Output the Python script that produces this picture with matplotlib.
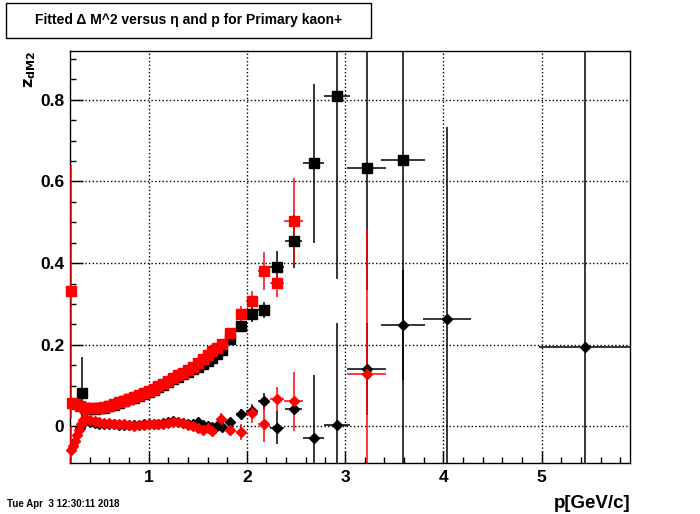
import numpy as np
import matplotlib
matplotlib.use('Agg')
import matplotlib.pyplot as plt
from matplotlib.ticker import MultipleLocator
from matplotlib.patches import Rectangle

# black squares (upper band)
bk_sq_p = [0.32, 0.35, 0.40, 0.45, 0.50, 0.55, 0.60, 0.65, 0.70, 0.75, 0.80, 0.85, 0.90, 0.95,
           1.00, 1.05, 1.10, 1.15, 1.20, 1.25, 1.30, 1.35, 1.40, 1.45, 1.50, 1.55, 1.60, 1.65,
           1.70, 1.75, 1.83, 1.94, 2.05, 2.17, 2.31, 2.475, 2.68, 2.92, 3.22, 3.59]
bk_sq_z = [0.081, 0.044, 0.043, 0.043, 0.044, 0.046, 0.049, 0.053, 0.057, 0.061, 0.066, 0.070,
           0.075, 0.080, 0.085, 0.090, 0.096, 0.102, 0.108, 0.115, 0.122, 0.128, 0.133, 0.140,
           0.146, 0.152, 0.160, 0.168, 0.177, 0.186, 0.213, 0.245, 0.275, 0.285, 0.390, 0.454,
           0.645, 0.810, 0.633, 0.653]
bk_sq_ex = [0.02] + [0.025] * 29 + [0.05, 0.05, 0.055, 0.06, 0.07, 0.09, 0.11, 0.13, 0.20, 0.22]
bk_sq_ez = [0.09] + [0.004] * 29 + [0.008, 0.01, 0.02, 0.02, 0.04, 0.065, 0.195, 0.45, 0.30, 1.0]

# red squares (upper band)
rd_sq_p = [0.21, 0.22, 0.25, 0.30, 0.35, 0.40, 0.45, 0.50, 0.55, 0.60, 0.65, 0.70, 0.75, 0.80,
           0.85, 0.90, 0.95, 1.00, 1.05, 1.10, 1.15, 1.20, 1.25, 1.30, 1.35, 1.40, 1.45, 1.50,
           1.55, 1.60, 1.65, 1.70, 1.75, 1.83, 1.94, 2.05, 2.17, 2.31, 2.475]
rd_sq_z = [0.331, 0.058, 0.055, 0.050, 0.046, 0.045, 0.045, 0.046, 0.048, 0.051, 0.055, 0.059,
           0.063, 0.068, 0.072, 0.077, 0.082, 0.087, 0.092, 0.098, 0.104, 0.110, 0.118, 0.125,
           0.131, 0.138, 0.146, 0.156, 0.165, 0.174, 0.184, 0.193, 0.202, 0.228, 0.275, 0.307,
           0.380, 0.351, 0.503]
rd_sq_ex = [0.01] + [0.025] * 32 + [0.05, 0.05, 0.055, 0.06, 0.07, 0.10]
rd_sq_ez = [0.31] + [0.004] * 32 + [0.008, 0.02, 0.025, 0.047, 0.035, 0.105]

# black diamonds (lower band)
bk_di_p = [0.30, 0.35, 0.40, 0.45, 0.50, 0.55, 0.60, 0.65, 0.70, 0.75, 0.80, 0.85, 0.90, 0.95,
           1.00, 1.05, 1.10, 1.15, 1.20, 1.25, 1.30, 1.35, 1.40, 1.45, 1.50, 1.55, 1.60, 1.65,
           1.70, 1.75, 1.83, 1.94, 2.05, 2.17, 2.31, 2.475, 2.68, 2.92, 3.22, 3.59, 4.04, 5.44]
bk_di_z = [-0.005, 0.012, 0.010, 0.008, 0.006, 0.006, 0.005, 0.005, 0.004, 0.004, 0.003, 0.004,
           0.004, 0.005, 0.006, 0.006, 0.007, 0.008, 0.010, 0.013, 0.010, 0.008, 0.006, 0.006,
           0.010, 0.004, 0.002, -0.002, 0.000, -0.002, 0.010, 0.030, 0.037, 0.061, -0.003, 0.042,
           -0.028, 0.004, 0.140, 0.248, 0.263, 0.194]
bk_di_ex = [0.025] * 29 + [0.04, 0.05, 0.05, 0.055, 0.06, 0.07, 0.09, 0.11, 0.13, 0.20, 0.22,
                          0.245, 0.47]
bk_di_ez = [0.004] * 29 + [0.01, 0.01, 0.012, 0.015, 0.02, 0.04, 0.015, 0.153, 0.25, 0.113,
                          0.135, 0.47, 1.0]

# red diamonds (lower band)
rd_di_p = [0.21, 0.23, 0.25, 0.27, 0.29, 0.31, 0.33, 0.35, 0.40, 0.45, 0.50, 0.55, 0.60, 0.65,
           0.70, 0.75, 0.80, 0.85, 0.90, 0.95, 1.00, 1.05, 1.10, 1.15, 1.20, 1.25, 1.30, 1.35,
           1.40, 1.45, 1.50, 1.55, 1.60, 1.65, 1.74, 1.83, 1.94, 2.05, 2.17, 2.31, 2.475, 3.22]
rd_di_z = [-0.058, -0.048, -0.035, -0.022, -0.008, 0.005, 0.016, 0.020, 0.016, 0.012, 0.010,
           0.009, 0.008, 0.007, 0.006, 0.005, 0.004, 0.002, 0.003, 0.004, 0.005, 0.006, 0.006,
           0.005, 0.008, 0.010, 0.011, 0.008, 0.004, 0.000, -0.004, -0.008, -0.005, -0.012,
           0.017, -0.008, -0.014, 0.032, 0.005, 0.066, 0.061, 0.128]
rd_di_ex = [0.01] + [0.012] * 7 + [0.025] * 26 + [0.045, 0.05, 0.05, 0.055, 0.06, 0.07, 0.10,
                                                   0.20]
rd_di_ez = [0.06] + [0.004] * 33 + [0.015, 0.01, 0.02, 0.024, 0.044, 0.03, 0.073, 0.355]

plt.rcParams['font.family'] = ['Liberation Sans', 'DejaVu Sans']
plt.rcParams['font.weight'] = 'bold'

fig = plt.figure(figsize=(7, 5.14), dpi=100)
ax = fig.add_axes([0.1, 0.099, 0.8, 0.802])

series = [
    (bk_sq_p, bk_sq_z, bk_sq_ex, bk_sq_ez, 's', 'black', 6.5),
    (bk_di_p, bk_di_z, bk_di_ex, bk_di_ez, 'D', 'black', 5),
    (rd_sq_p, rd_sq_z, rd_sq_ex, rd_sq_ez, 's', 'red', 6.5),
    (rd_di_p, rd_di_z, rd_di_ex, rd_di_ez, 'D', 'red', 5),
]
for p, z, ep, ez, mk, col, ms in series:
    eb = ax.errorbar(p, z, xerr=ep, yerr=ez, fmt=mk, color=col, mec=col, mfc=col, ms=ms,
                     elinewidth=1.1, capsize=0, zorder=3)
    eb[0].set_clip_on(False)

ax.set_xlim(0.2, 5.9)
ax.set_ylim(-0.09, 0.92)
ax.xaxis.set_major_locator(MultipleLocator(1))
ax.xaxis.set_minor_locator(MultipleLocator(0.2))
ax.yaxis.set_major_locator(MultipleLocator(0.2))
ax.yaxis.set_minor_locator(MultipleLocator(0.05))
ax.yaxis.set_major_formatter(plt.FuncFormatter(lambda v, _: '0' if abs(v) < 1e-9 else f'{v:.1f}'))
ax.tick_params(which='both', direction='in', top=False, right=False, width=1)
ax.tick_params(which='major', length=9, labelsize=12.5)
ax.tick_params(axis='x', which='major', pad=5)
ax.tick_params(axis='y', which='major', pad=4)
ax.tick_params(which='minor', length=4.5)
ax.grid(True, which='major', color='black', linestyle=':', linewidth=1)
for s in ax.spines.values():
    s.set_linewidth(1)

fig.text(0.9, 0.02, 'p[GeV/c]', ha='right', va='center', fontsize=13.5, fontweight='bold')
fig.text(0.043, 0.902, r'$\mathbf{z_{dM2}}$', rotation=90, ha='center', va='top', fontsize=11.5)
fig.text(0.01, 0.02, 'Tue Apr  3 12:30:11 2018', ha='left', va='center', fontsize=7,
         fontweight='bold')

fig.patches.append(Rectangle((0.0086, 0.926), 0.522, 0.068, transform=fig.transFigure,
                             fill=False, edgecolor='black', linewidth=1))
fig.text(0.269, 0.961, 'Fitted \u0394 M^2 versus \u03b7 and p for Primary kaon+',
         ha='center', va='center', fontsize=10, fontweight='bold')

fig.savefig('out.png', dpi=100)
